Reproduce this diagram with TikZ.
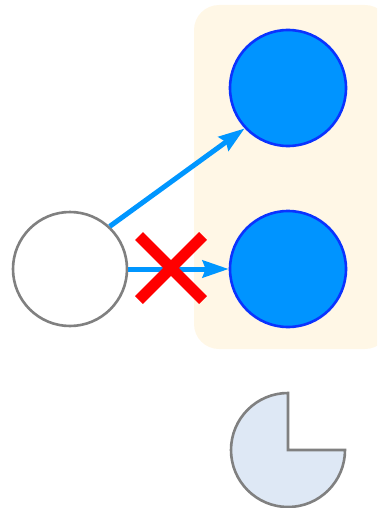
\documentclass[tikz,border=0pt]{standalone}
\usepackage{xcolor}
\usepackage{tikz}
\usetikzlibrary{arrows.meta}
\definecolor{tgtfill}{HTML}{0094ff}
\definecolor{tgtstroke}{HTML}{0a33ff}
\definecolor{srcstroke}{HTML}{808080}
\definecolor{boxfill}{HTML}{fff7e6}
\definecolor{piefill}{HTML}{dee8f5}
\definecolor{edgecol}{HTML}{0096ff}
\tikzset{
  srcnode/.style={circle, fill=white, draw=srcstroke, line width=2.6pt,
                  minimum size=114pt, inner sep=0pt},
  tgtnode/.style={circle, fill=tgtfill, draw=tgtstroke, line width=2.6pt,
                  minimum size=116pt, inner sep=0pt},
  groupbox/.style={fill=boxfill, rounded corners=25pt},
  linkarrow/.style={-{Stealth[length=26pt,width=17pt,inset=3pt]},
                    draw=edgecol, line width=5pt},
  crossmark/.style={draw=red, line width=11pt}
}
\begin{document}
\begin{tikzpicture}[x=1pt, y=-1pt]

  \clip (0,0) rectangle (377,508);

  % --- group box behind the targets ---
  \path[groupbox] (194,5) rectangle (390,349);

  % --- nodes ---
  \node[srcnode] (src)  at (70, 269) {};
  \node[tgtnode] (tgtA) at (288, 88) {};
  \node[tgtnode] (tgtB) at (288, 269) {};

  % --- links ---
  \draw[linkarrow] (src.47) -- (tgtA.223);
  \draw[linkarrow] (src.east) -- (tgtB.west);

  % --- blocked link mark ---
  \coordinate (cross) at (171, 268);
  \draw[crossmark] ([shift={(-32,-32)}]cross) -- ([shift={(32,32)}]cross);
  \draw[crossmark] ([shift={(-32,32)}]cross) -- ([shift={(32,-32)}]cross);

  % --- pie with one quarter cut out ---
  \coordinate (pie) at (288, 450);
  \draw[fill=piefill, draw=srcstroke, line width=2.6pt, line join=miter]
    (pie) -- ++(57,0) arc[start angle=0, end angle=270, radius=57] -- cycle;

\end{tikzpicture}
\end{document}
